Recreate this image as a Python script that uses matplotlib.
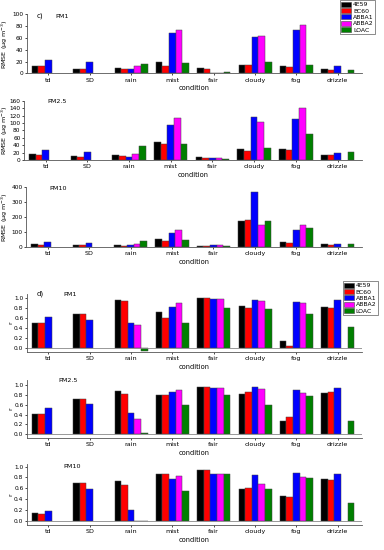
import numpy as np
import matplotlib
matplotlib.use("Agg")
import matplotlib.pyplot as plt
from matplotlib.patches import Patch

nan = np.nan
conditions = ["td", "SD", "rain", "mist", "fair", "cloudy", "fog", "drizzle"]
instruments = ["4E59", "BC60", "ABBA1", "ABBA2", "LOAC"]
colors = ["#000000", "#FF0000", "#0000FF", "#FF00FF", "#008000"]

# RMSE PM1
rmse_pm1_4e59 = [13, 7, 9, 19, 9, 15, 13, 7]
rmse_pm1_bc60 = [12, 7, 7, 12, 8, 13.5, 11, 5.5]
rmse_pm1_abba1 = [22, 18.5, 7, 68, 1.5, 61, 73.5, 13]
rmse_pm1_abba2 = [nan, nan, 12, 74, 1.5, 63, 81, nan]
rmse_pm1_loac = [nan, nan, 15.5, 17, 2, 19, 14, 6]
# RMSE PM2.5
rmse_pm25_4e59 = [16, 10, 13.5, 48.5, 7, 29, 30, 14]
rmse_pm25_bc60 = [13.5, 8, 11, 42, 5.5, 25, 26, 12.5]
rmse_pm25_abba1 = [27, 23, 8, 93.5, 5.5, 115, 110, 18]
rmse_pm25_abba2 = [nan, nan, 16, 113, 4.5, 101.5, 139, nan]
rmse_pm25_loac = [nan, nan, 38.5, 42, 3.5, 33, 70, 21.5]
# RMSE PM10
rmse_pm10_4e59 = [18, 11, 11, 54, 4.5, 175, 31, 16]
rmse_pm10_bc60 = [13.5, 11, 7, 38, 4.5, 178, 25, 9]
rmse_pm10_abba1 = [31, 27, 9, 90, 11, 368, 110, 18]
rmse_pm10_abba2 = [nan, nan, 18, 112, 9, 146, 148, nan]
rmse_pm10_loac = [nan, nan, 38, 43, 7, 173, 126, 20]
# r PM1
r_pm1_4e59 = [0.50, 0.68, 0.96, 0.72, 1.0, 0.84, 0.13, 0.83]
r_pm1_bc60 = [0.50, 0.68, 0.95, 0.61, 1.0, 0.80, 0.03, 0.80]
r_pm1_abba1 = [0.62, 0.57, 0.51, 0.82, 0.99, 0.97, 0.93, 0.97]
r_pm1_abba2 = [nan, nan, 0.47, 0.90, 0.98, 0.95, 0.91, nan]
r_pm1_loac = [nan, nan, -0.07, 0.51, 0.81, 0.78, 0.68, 0.43]
# r PM2.5
r_pm25_4e59 = [0.42, 0.71, 0.87, 0.80, 0.97, 0.82, 0.28, 0.83]
r_pm25_bc60 = [0.42, 0.71, 0.82, 0.80, 0.97, 0.85, 0.345, 0.85]
r_pm25_abba1 = [0.53, 0.615, 0.43, 0.85, 0.93, 0.96, 0.905, 0.95]
r_pm25_abba2 = [nan, nan, 0.32, 0.89, 0.93, 0.91, 0.83, nan]
r_pm25_loac = [nan, nan, 0.02, 0.59, 0.80, 0.59, 0.78, 0.28]
# r PM10
r_pm10_4e59 = [0.136, 0.69, 0.74, 0.86, 0.93, 0.59, 0.46, 0.765]
r_pm10_bc60 = [0.123, 0.69, 0.655, 0.86, 0.93, 0.605, 0.43, 0.76]
r_pm10_abba1 = [0.18, 0.59, 0.20, 0.78, 0.865, 0.85, 0.89, 0.86]
r_pm10_abba2 = [nan, nan, -0.005, 0.82, 0.865, 0.68, 0.815, nan]
r_pm10_loac = [nan, nan, -0.01, 0.55, 0.865, 0.58, 0.79, 0.335]

panels = [
    dict(data=[rmse_pm1_4e59, rmse_pm1_bc60, rmse_pm1_abba1, rmse_pm1_abba2, rmse_pm1_loac],
         ylim=(0, 100), yticks=[0, 20, 40, 60, 80, 100], title="PM1", tag="c)",
         rect=[0.070, 0.8664, 0.873, 0.108], ylabel="RMSE (μg m$^{-3}$)", fmt="{:.0f}",
         tpos=(0.084, 1.0)),
    dict(data=[rmse_pm25_4e59, rmse_pm25_bc60, rmse_pm25_abba1, rmse_pm25_abba2, rmse_pm25_loac],
         ylim=(0, 160), yticks=list(range(0, 161, 20)), title="PM2.5", tag=None,
         rect=[0.0625, 0.709, 0.8805, 0.108], ylabel="RMSE (μg m$^{-3}$)", fmt="{:.0f}",
         tpos=(0.068, 1.02)),
    dict(data=[rmse_pm10_4e59, rmse_pm10_bc60, rmse_pm10_abba1, rmse_pm10_abba2, rmse_pm10_loac],
         ylim=(0, 400), yticks=[0, 100, 200, 300, 400], title="PM10", tag=None,
         rect=[0.068, 0.5515, 0.875, 0.1085], ylabel="RMSE (μg m$^{-3}$)", fmt="{:.0f}",
         tpos=(0.068, 1.02)),
    dict(data=[r_pm1_4e59, r_pm1_bc60, r_pm1_abba1, r_pm1_abba2, r_pm1_loac],
         ylim=(-0.08, 1.08), yticks=[0, 0.2, 0.4, 0.6, 0.8, 1.0], title="PM1", tag="d)",
         rect=[0.070, 0.3605, 0.873, 0.1042], ylabel="r", fmt="{:.1f}",
         tpos=(0.11, 1.05)),
    dict(data=[r_pm25_4e59, r_pm25_bc60, r_pm25_abba1, r_pm25_abba2, r_pm25_loac],
         ylim=(-0.07, 1.1), yticks=[0, 0.2, 0.4, 0.6, 0.8, 1.0], title="PM2.5", tag=None,
         rect=[0.070, 0.204, 0.873, 0.1049], ylabel="r", fmt="{:.1f}",
         tpos=(0.093, 1.03)),
    dict(data=[r_pm10_4e59, r_pm10_bc60, r_pm10_abba1, r_pm10_abba2, r_pm10_loac],
         ylim=(-0.08, 1.045), yticks=[0, 0.2, 0.4, 0.6, 0.8, 1.0], title="PM10", tag=None,
         rect=[0.070, 0.0455, 0.873, 0.1105], ylabel="r", fmt="{:.1f}",
         tpos=(0.11, 1.01)),
]

fig = plt.figure(figsize=(3.84, 5.5), dpi=100)
plt.rcParams['font.family'] = ['DejaVu Sans']
x = np.arange(len(conditions))
w = 0.16
fs = 4.6
tfs = 4.2

for i, p in enumerate(panels):
    ax = fig.add_axes(p["rect"])
    for k, series in enumerate(p["data"]):
        ax.bar(x + (k - 2) * w, series, width=w, color=colors[k],
               edgecolor="#444444", linewidth=0.35)
    ax.set_xlim(-0.52, 7.59)
    ax.set_ylim(*p["ylim"])
    ax.set_yticks(p["yticks"])
    ax.set_yticklabels([p["fmt"].format(v) for v in p["yticks"]])
    ax.set_xticks(x)
    ax.set_xticklabels(conditions)
    ax.tick_params(axis="y", labelsize=tfs, direction="out", length=1.5, width=0.5, pad=1.0)
    ax.tick_params(axis="x", labelsize=fs, direction="out", length=1.5, width=0.5, pad=1.5)
    for s in ["top", "right"]:
        ax.spines[s].set_visible(False)
    for s in ["left", "bottom"]:
        ax.spines[s].set_linewidth(0.6)
        ax.spines[s].set_color("#555555")
    if p["ylim"][0] < 0:
        ax.axhline(0, color="#888888", linewidth=0.6)
    ax.set_xlabel("condition", fontsize=fs + 0.2, labelpad=2)
    r = p["rect"]
    edge_px = 10.5 if p["ylabel"] != "r" else 13
    lx = (edge_px / 384 - r[0]) / r[2]
    ax.set_ylabel(p["ylabel"], fontsize=fs)
    ax.yaxis.set_label_coords(lx, 0.5)
    tx, ty = p["tpos"]
    ax.text(tx, ty, p["title"], transform=ax.transAxes, fontsize=fs, va="top")
    if p["tag"]:
        ax.text(0.03, 1.02 if i == 0 else 1.07, p["tag"], transform=ax.transAxes,
                fontsize=fs + 0.4, va="top")

handles = [Patch(facecolor=c, edgecolor="#444444", linewidth=0.4) for c in colors]
for bbox in [(0.977, 1.0), (0.984, 0.489)]:
    leg = fig.legend(handles, instruments, loc="upper right", bbox_to_anchor=bbox,
                     fontsize=fs - 0.2, frameon=True, fancybox=False, handlelength=1.6,
                     handleheight=0.9, handletextpad=0.3, borderpad=0.25, labelspacing=0.12,
                     borderaxespad=0)
    leg.get_frame().set_edgecolor("#333333")
    leg.get_frame().set_linewidth(0.5)

fig.savefig("out.png", dpi=100)
